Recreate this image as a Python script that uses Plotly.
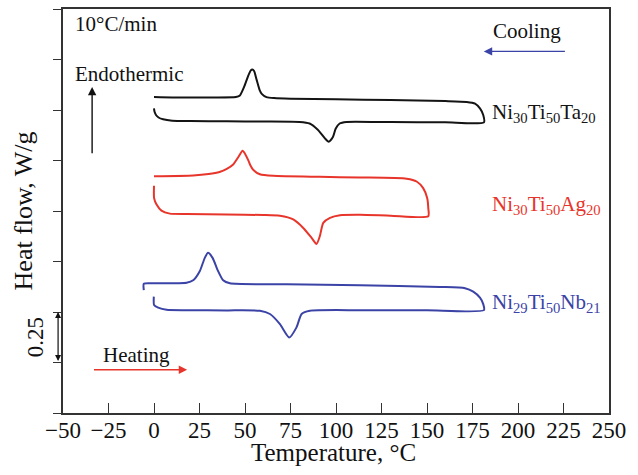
import plotly.graph_objects as go

# DSC loops: heating branch (0 -> max T) followed by cooling branch (max T -> start)
temp_ta = [0, 0.3, 1.2, 2.5, 5, 10, 20, 40, 60, 80, 85.5, 90, 93.8, 96, 98.3, 99.8, 102, 105.8, 130, 160, 181.3,
           180.9, 179.2, 176.4, 171.8, 160, 130, 100, 75, 66, 61.8, 59.2, 58, 56.4, 55, 54, 53.2, 51.7, 49.5, 47.2, 45, 30, 10, 0]
flow_ta = [1.508, 1.491, 1.474, 1.463, 1.454, 1.447, 1.445, 1.444, 1.443, 1.441, 1.433, 1.402, 1.361, 1.343, 1.366, 1.407, 1.433, 1.441, 1.440, 1.439, 1.439,
           1.475, 1.507, 1.532, 1.540, 1.544, 1.549, 1.553, 1.556, 1.559, 1.564, 1.580, 1.600, 1.649, 1.693, 1.701, 1.696, 1.668, 1.614, 1.572, 1.564, 1.562, 1.562, 1.564]

temp_ag = [0, 0.05, 1.4, 4.1, 8.7, 17.9, 40, 60, 69.2, 76.5, 82, 86.6, 89.3, 91.1, 93, 96.7, 102.2, 113.2, 130, 150.7,
           150.7, 150.1, 147.9, 144.3, 138.8, 113.1, 91.1, 65.5, 58.2, 54.5, 53, 51.7, 50.2, 48.7, 46.2, 43.5, 40, 36, 30, 21.5, 0]
flow_ag = [1.125, 1.064, 1.032, 1.002, 0.987, 0.985, 0.983, 0.980, 0.976, 0.958, 0.916, 0.867, 0.837, 0.875, 0.941, 0.966, 0.979, 0.981, 0.977, 0.974,
           1.015, 1.064, 1.113, 1.146, 1.160, 1.166, 1.169, 1.174, 1.182, 1.204, 1.225, 1.253, 1.280, 1.298, 1.265, 1.230, 1.208, 1.193, 1.183, 1.176, 1.172]

temp_nb = [-0.1, 0.05, 2.3, 6.9, 17.9, 40, 58.2, 63.7, 69.2, 74.3, 78.3, 81.1, 85.7, 113.1, 150, 181.3,
           180.9, 179.1, 175.4, 170.9, 157.1, 113.1, 72.8, 41.7, 38, 35.2, 32.2, 29.7, 27.9, 25.2, 21.5, 17.9, -0.5, -5.6, -5.6]
flow_nb = [0.576, 0.535, 0.522, 0.511, 0.509, 0.508, 0.506, 0.490, 0.440, 0.374, 0.424, 0.490, 0.506, 0.509, 0.509, 0.509,
           0.539, 0.571, 0.601, 0.618, 0.624, 0.633, 0.637, 0.642, 0.657, 0.703, 0.768, 0.793, 0.768, 0.703, 0.657, 0.645, 0.642, 0.640, 0.608]

alloys = [
    ("Ni<sub>30</sub>Ti<sub>50</sub>Ta<sub>20</sub>", temp_ta, flow_ta, "#141414", 1.485),
    ("Ni<sub>30</sub>Ti<sub>50</sub>Ag<sub>20</sub>", temp_ag, flow_ag, "#e8352b", 1.030),
    ("Ni<sub>29</sub>Ti<sub>50</sub>Nb<sub>21</sub>", temp_nb, flow_nb, "#3b43a6", 0.545),
]

SERIF = "Liberation Serif, Times New Roman, serif"

fig = go.Figure()
for name, t, q, color, _ in alloys:
    fig.add_trace(go.Scatter(x=t, y=q, mode="lines", name=name,
                             line=dict(color=color, width=2, shape="spline", smoothing=0.6),
                             showlegend=False, hoverinfo="skip"))

annotations = []
# alloy labels to the right of each loop
for name, t, q, color, ylab in alloys:
    annotations.append(dict(x=184.5, y=ylab, xref="x", yref="y", text=name, showarrow=False,
                            xanchor="left", yanchor="middle", font=dict(family=SERIF, size=21, color=color)))

annotations += [
    dict(x=-44.5, y=1.928, xref="x", yref="y", text="10°C/min", showarrow=False,
         xanchor="left", yanchor="middle", font=dict(family=SERIF, size=21, color="#111")),
    dict(x=-44.5, y=1.677, xref="x", yref="y", text="Endothermic", showarrow=False,
         xanchor="left", yanchor="middle", font=dict(family=SERIF, size=21, color="#111")),
    dict(x=185.4, y=1.890, xref="x", yref="y", text="Cooling", showarrow=False,
         xanchor="left", yanchor="middle", font=dict(family=SERIF, size=21, color="#111")),
    dict(x=-29.2, y=0.285, xref="x", yref="y", text="Heating", showarrow=False,
         xanchor="left", yanchor="middle", font=dict(family=SERIF, size=21, color="#111")),
    # endothermic direction arrow
    dict(x=-34, y=1.614, ax=-34, ay=1.279, xref="x", yref="y", axref="x", ayref="y", text="",
         showarrow=True, arrowhead=2, arrowsize=1.2, arrowwidth=1.4, arrowcolor="#111"),
    # heating direction arrow
    dict(x=18.2, y=0.214, ax=-33.8, ay=0.214, xref="x", yref="y", axref="x", ayref="y", text="",
         showarrow=True, arrowhead=2, arrowsize=1.2, arrowwidth=1.4, arrowcolor="#e8352b"),
    # cooling direction arrow
    dict(x=181.2, y=1.790, ax=226.6, ay=1.790, xref="x", yref="y", axref="x", ayref="y", text="",
         showarrow=True, arrowhead=2, arrowsize=1.2, arrowwidth=1.4, arrowcolor="#3b43a6"),
    # 0.25 W/g scale bar
    dict(x=-0.009, y=0.5, ax=-0.009, ay=0.25, xref="x domain", yref="y", axref="x domain", ayref="y", text="",
         showarrow=True, arrowhead=2, startarrowhead=2, arrowside="end+start", arrowsize=1.0,
         startarrowsize=1.0, arrowwidth=1.2, arrowcolor="#111"),
    dict(x=-0.050, y=0.373, xref="paper", yref="y", text="0.25", showarrow=False, textangle=-90,
         xanchor="center", yanchor="middle", font=dict(family=SERIF, size=23, color="#111")),
    # x-axis title
    dict(x=0.496, y=-0.098, xref="paper", yref="paper", text="Temperature, °C", showarrow=False,
         xanchor="center", yanchor="middle", font=dict(family=SERIF, size=25, color="#111")),
]

fig.update_layout(
    width=638, height=475,
    margin=dict(l=63, r=29, t=7, b=62),
    paper_bgcolor="white", plot_bgcolor="white",
    annotations=annotations,
    xaxis=dict(range=[-50, 250], tick0=-50, dtick=25, ticks="inside", ticklen=10, tickwidth=1.3,
               tickcolor="#333", showline=True, linecolor="#333", linewidth=1.6, mirror=True,
               showgrid=False, zeroline=False, ticklabelstandoff=-4,
               tickfont=dict(family=SERIF, size=23, color="#111")),
    yaxis=dict(range=[0, 2.0], tick0=0, dtick=0.25, ticks="outside", ticklen=8, tickwidth=1.3,
               tickcolor="#333", showline=True, linecolor="#333", linewidth=1.6, mirror=True,
               showgrid=False, zeroline=False, showticklabels=False,
               title=dict(text="Heat flow, W/g", font=dict(family=SERIF, size=26, color="#111"), standoff=13)),
)

fig.write_html("out.html")
